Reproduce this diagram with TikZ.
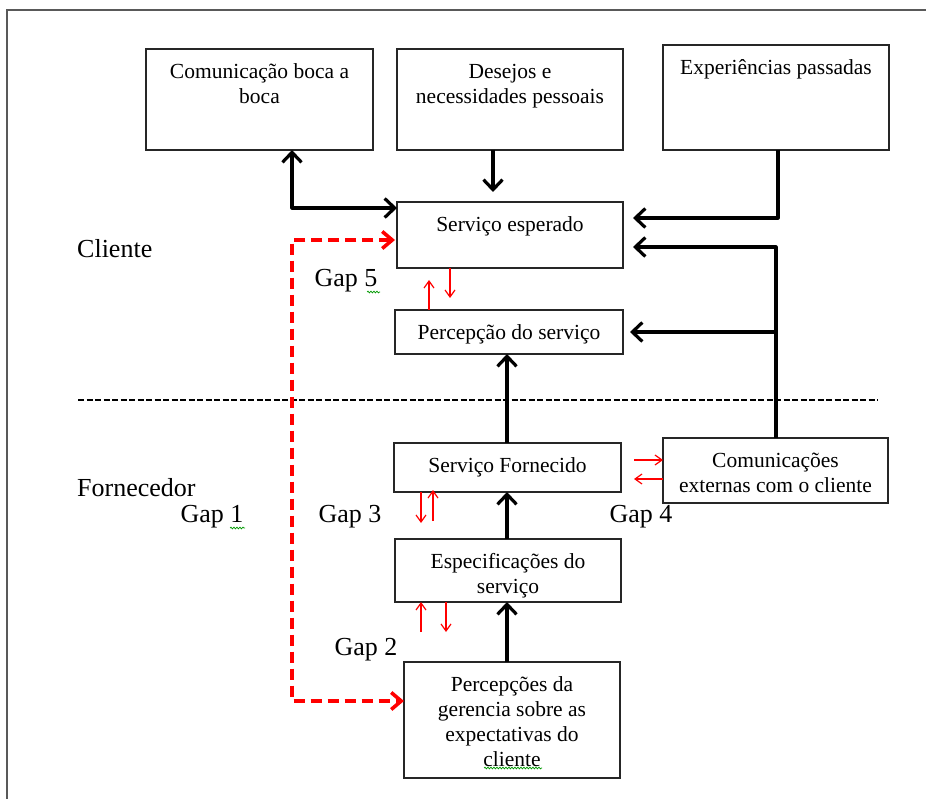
\documentclass[tikz,border=0pt]{standalone}
\usepackage{fontspec}
\setmainfont{Liberation Serif}
\usetikzlibrary{arrows.meta,calc,decorations.pathmorphing}
\newcommand\boxtxt[3]{\parbox[c][#2][t]{#1}{\centering\fontsize{21.5}{24.9}\selectfont\vspace*{12pt}\strut #3}}
\begin{document}
\begin{tikzpicture}[x=1pt,y=-1pt,
  box/.style={draw=black!85,line width=1.2pt,inner sep=0pt,outer sep=0pt,anchor=north west},
  lbl/.style={inner sep=0pt,font=\fontsize{26}{30}\selectfont},
  blk/.style={line width=3.2pt,black,line join=round},
  btip/.tip={Straight Barb[length=10pt,width=19pt]},
  rtip/.tip={Straight Barb[length=7pt,width=10pt]},
  reddash/.style={line width=3.6pt,red,dash pattern=on 11pt off 6pt},
  redthin/.style={line width=1.2pt,red},
  sepline/.style={line width=1.6pt,black,dash pattern=on 6pt off 2.5pt},
  frame/.style={line width=1.5pt,black!65},
  squig/.style={green!60!black,line width=0.7pt,decorate,decoration={snake,amplitude=0.9pt,segment length=3pt}}
]
\useasboundingbox (0,0) rectangle (926,799);
\draw[frame] (926,10) -- (7,10) -- (7,799);

% boxes
\node[box] (A) at (146,49) {\boxtxt{227pt}{101pt}{Comunicação boca a\\boca}};
\node[box] (B) at (397,49) {\boxtxt{226pt}{101pt}{Desejos e\\necessidades pessoais}};
\node[box] (C) at (663,45) {\boxtxt{226pt}{105pt}{Experiências passadas}};
\node[box] (SE) at (397,202) {\boxtxt{226pt}{66pt}{Serviço esperado}};
\node[box] (PS) at (395,310) {\boxtxt{228pt}{44pt}{Percepção do serviço}};
\node[box] (SF) at (394,443) {\boxtxt{227pt}{49pt}{Serviço Fornecido}};
\node[box] (CE) at (663,438) {\boxtxt{225pt}{65pt}{Comunicações\\externas com o cliente}};
\node[box] (ES) at (395,539) {\boxtxt{226pt}{63pt}{Especificações do\\serviço}};
\node[box] (PG) at (404,662) {\boxtxt{216pt}{116pt}{Percepções da\\gerencia sobre as\\expectativas do\\cliente}};

% labels
\node[lbl,anchor=west] (cli) at (77,249) {Cliente};
\node[lbl,anchor=west] (forn) at (77,488) {Fornecedor};
\node[lbl] (g5) at (346,281) {Gap 5};
\node[lbl] (g3) at (350,517) {Gap 3};
\node[lbl] (g1) at (212,517) {Gap 1};
\node[lbl] (g4) at (641,517) {Gap 4};
\node[lbl] (g2) at (366,650) {Gap 2};

% separator
\coordinate (s1) at (78,400);
\coordinate (s2) at (878,400);
\draw[sepline] (s1) -- (s2);

% black arrows
\coordinate (p1) at (292,208);
\draw[blk,{btip}-{btip}] (p1 |- A.south) -- (p1) -- (p1 -| SE.west);
\coordinate (p2) at (493,192);
\draw[blk,-{btip}] (p2 |- B.south) -- (p2);
\coordinate (p3) at (778,218);
\draw[blk,-{btip}] (p3 |- C.south) -- (p3) -- ($(p3 -| SE.east)+(10,0)$);
\coordinate (p4) at (776,247);
\draw[blk,-{btip}] (p4 |- CE.north) -- (p4) -- ($(p4 -| SE.east)+(10,0)$);
\coordinate (p5) at (776,332);
\draw[blk,-{btip}] (p5) -- ($(p5 -| PS.east)+(7,0)$);
\coordinate (p6) at (507,0);
\draw[blk,-{btip}] (p6 |- SF.north) -- (p6 |- PS.south);
\draw[blk,-{btip}] (p6 |- ES.north) -- (p6 |- SF.south);
\draw[blk,-{btip}] (p6 |- PG.north) -- (p6 |- ES.south);

% red dashed gap 1
\coordinate (q1) at (292,240);
\coordinate (q2) at (292,701);
\draw[reddash,{btip[length=10pt,width=17pt]}-{btip[length=10pt,width=17pt]}] ($(q1 -| SE.west)+(-2,0)$) -- (q1) -- (q2) -- (q2 -| PG.west);

% red thin gap arrows
\coordinate (r1) at (429,280);
\draw[redthin,-{rtip}] (r1 |- PS.north) -- (r1);
\coordinate (r2) at (450,298);
\draw[redthin,-{rtip}] (r2 |- SE.south) -- (r2);
\coordinate (r3) at (421,523);
\draw[redthin,-{rtip}] (r3 |- SF.south) -- (r3);
\coordinate (r4) at (433,521);
\draw[redthin,-{rtip}] (r4) -- ($(r4 |- SF.south)+(0,-2)$);
\coordinate (r5) at (421,632);
\draw[redthin,-{rtip}] (r5) -- (r5 |- ES.south);
\coordinate (r6) at (446,632);
\draw[redthin,-{rtip}] (r6 |- ES.south) -- (r6);
\coordinate (r7) at (634,460);
\draw[redthin,-{rtip}] (r7) -- (r7 -| CE.west);
\coordinate (r8) at (634,479);
\draw[redthin,-{rtip}] (r8 -| CE.west) -- (r8);

% spell-check squiggles
\draw[squig] (367,292) -- (380,292);
\draw[squig] (230,528) -- (245,528);
\draw[squig] (484,768) -- (542,768);
\end{tikzpicture}
\end{document}
